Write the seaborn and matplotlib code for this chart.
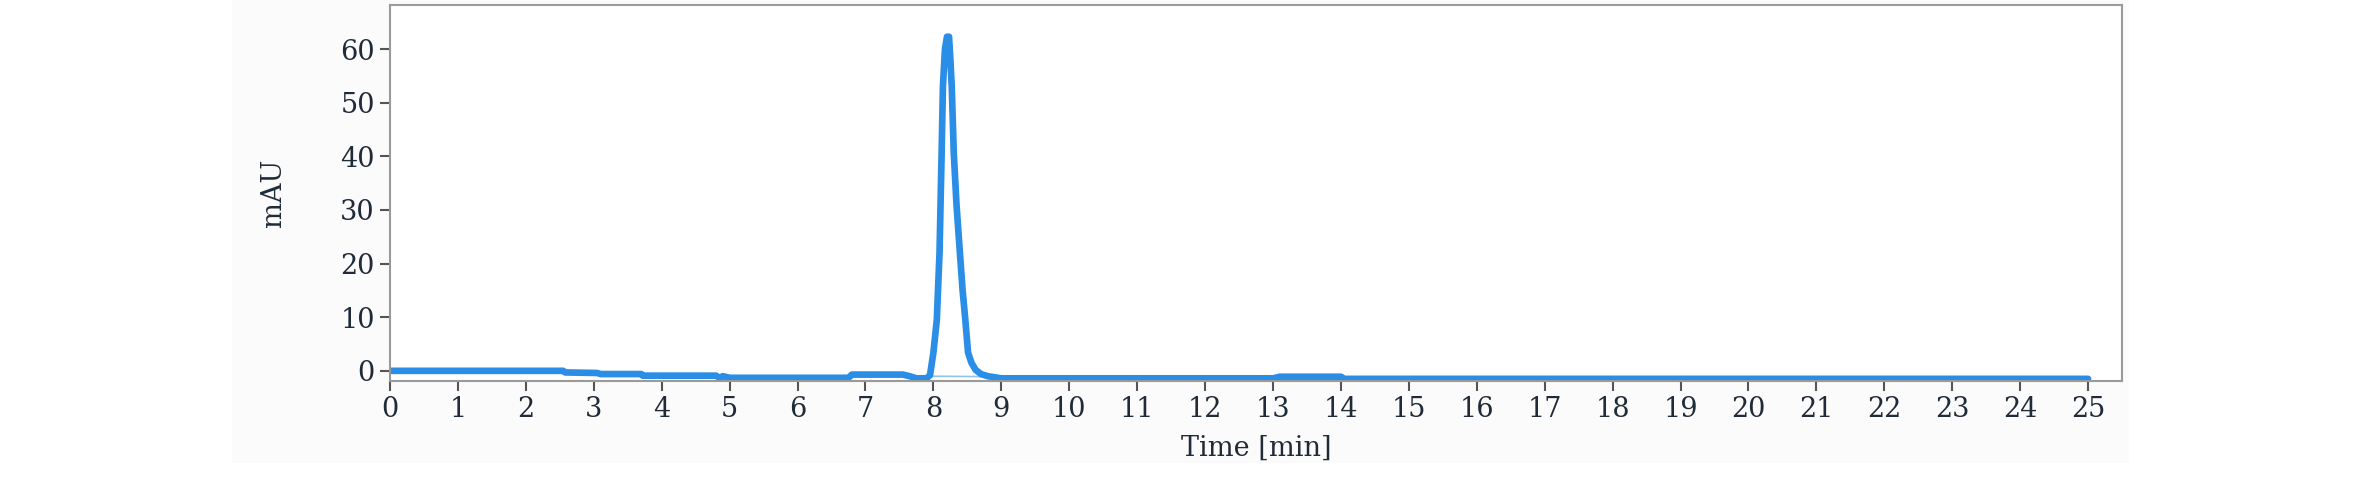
import matplotlib
matplotlib.use('Agg')
import matplotlib.pyplot as plt
import seaborn as sns
from matplotlib.patches import Rectangle

sns.set_theme(style='white')
plt.rcParams['font.family'] = ['DejaVu Serif']

# chromatogram trace (time in min, signal in mAU)
time = [0.0, 2.55, 2.58, 3.05, 3.10, 3.70, 3.72, 4.80, 4.85, 4.90, 5.00, 5.05,
        6.75, 6.80, 7.55, 7.65, 7.75, 7.90, 7.95, 8.00, 8.05, 8.09, 8.12, 8.14,
        8.17, 8.20, 8.23, 8.25, 8.27, 8.30, 8.34, 8.39, 8.43, 8.47, 8.51, 8.56,
        8.62, 8.70, 8.80, 8.90, 9.00, 13.00, 13.10, 14.00, 14.05, 20.40, 25.00]
mau = [0.0, 0.0, -0.3, -0.4, -0.6, -0.6, -0.9, -0.9, -1.3, -1.0, -1.3, -1.3,
       -1.3, -0.7, -0.7, -1.0, -1.4, -1.4, -0.8, 3.4, 9.5, 22.0, 40.0, 53.0,
       60.0, 62.3, 62.3, 58.0, 53.0, 40.6, 31.0, 22.0, 15.0, 9.5, 3.4, 1.5,
       0.2, -0.6, -1.0, -1.2, -1.4, -1.4, -1.1, -1.1, -1.5, -1.5, -1.5]

# integration baseline under the peak
base_time = [7.95, 9.0]
base_mau = [-1.0, -1.1]

xticks = list(range(0, 26))
yticks = [0, 10, 20, 30, 40, 50, 60]

text_color = '#1f2b38'
line_color = '#2a8de6'

fig = plt.figure(figsize=(23.71, 4.82), dpi=100)
fig.patches.append(Rectangle((0.098, 0.04), 0.80, 0.96, transform=fig.transFigure,
                             facecolor='#fbfbfb', edgecolor='none', zorder=-1))
ax = fig.add_axes([0.1645, 0.2095, 0.7305, 0.78])
ax.set_facecolor('white')

sns.lineplot(x=base_time, y=base_mau, ax=ax, color='#8fc3ee', linewidth=1.2)
sns.lineplot(x=time, y=mau, ax=ax, color=line_color, linewidth=4.8)

ax.set_xlim(0, 25.5)
ax.set_ylim(-1.9, 68.2)
ax.set_xticks(xticks)
ax.set_yticks(yticks)

for side in ['top', 'right', 'left', 'bottom']:
    ax.spines[side].set_color('#9a9a9a')
    ax.spines[side].set_linewidth(1.5)

ax.tick_params(axis='both', which='major', direction='out', length=7, width=1.5,
               color='#555555', labelsize=19.5, labelcolor=text_color, pad=4,
               bottom=True, left=True)

ax.set_xlabel('Time [min]', fontsize=19.5, color=text_color, labelpad=8)
ax.set_ylabel('mAU', fontsize=19.5, color=text_color, labelpad=38)

fig.savefig('out.png', dpi=100)
